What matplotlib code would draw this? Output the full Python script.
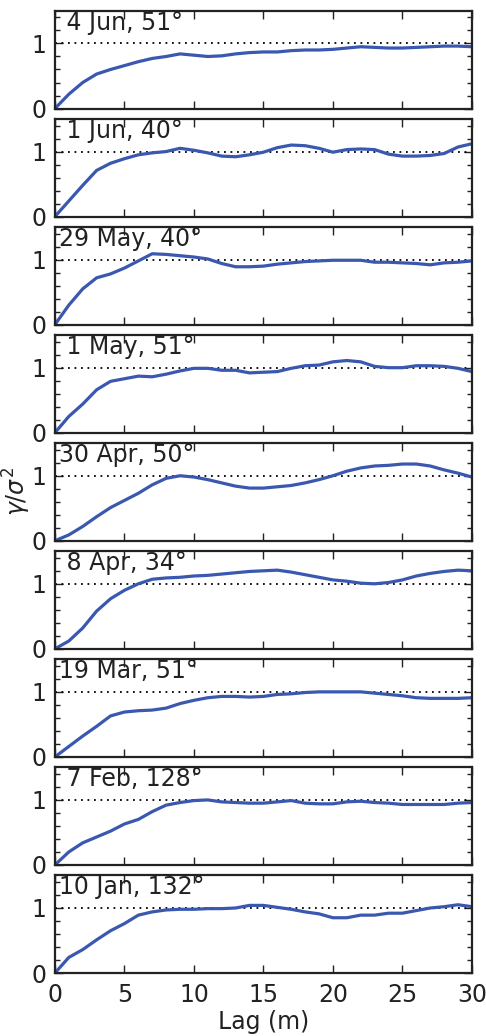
import matplotlib
matplotlib.use("Agg")
import matplotlib.pyplot as plt
from matplotlib.ticker import MultipleLocator

lag = list(range(0, 31))

labels = [" 4 Jun, 51°", " 1 Jun, 40°", "29 May, 40°", " 1 May, 51°",
          "30 Apr, 50°", " 8 Apr, 34°", "19 Mar, 51°", " 7 Feb, 128°", "10 Jan, 132°"]

jun04 = [0, 0.22, 0.40, 0.53, 0.60, 0.66, 0.72, 0.77, 0.80, 0.84, 0.82, 0.80, 0.81, 0.84, 0.86, 0.87,
         0.87, 0.89, 0.90, 0.90, 0.91, 0.93, 0.95, 0.94, 0.93, 0.93, 0.94, 0.95, 0.96, 0.96, 0.95]
jun01 = [0, 0.24, 0.48, 0.71, 0.82, 0.89, 0.95, 0.98, 1.00, 1.05, 1.02, 0.98, 0.93, 0.92, 0.95, 0.99,
         1.06, 1.10, 1.09, 1.05, 0.99, 1.03, 1.04, 1.03, 0.96, 0.93, 0.93, 0.94, 0.97, 1.07, 1.12]
may29 = [0, 0.30, 0.55, 0.72, 0.78, 0.87, 0.98, 1.09, 1.08, 1.06, 1.04, 1.01, 0.94, 0.89, 0.89, 0.90,
         0.93, 0.95, 0.97, 0.98, 0.99, 0.99, 0.99, 0.96, 0.96, 0.95, 0.94, 0.92, 0.95, 0.96, 0.98]
may01 = [0, 0.25, 0.44, 0.66, 0.79, 0.83, 0.87, 0.86, 0.90, 0.95, 0.99, 0.99, 0.96, 0.96, 0.92, 0.93,
         0.94, 0.99, 1.03, 1.04, 1.09, 1.11, 1.09, 1.02, 1.00, 1.00, 1.03, 1.03, 1.02, 0.99, 0.94]
apr30 = [0, 0.09, 0.22, 0.37, 0.51, 0.62, 0.73, 0.86, 0.96, 1.00, 0.98, 0.94, 0.89, 0.84, 0.81, 0.81,
         0.83, 0.85, 0.89, 0.94, 1.00, 1.07, 1.12, 1.15, 1.16, 1.18, 1.18, 1.15, 1.09, 1.04, 0.98]
apr08 = [0, 0.12, 0.32, 0.58, 0.77, 0.90, 1.00, 1.07, 1.09, 1.10, 1.12, 1.13, 1.15, 1.17, 1.19, 1.20,
         1.21, 1.18, 1.14, 1.10, 1.06, 1.04, 1.01, 1.00, 1.02, 1.06, 1.12, 1.16, 1.19, 1.21, 1.20]
mar19 = [0, 0.16, 0.32, 0.47, 0.63, 0.69, 0.71, 0.72, 0.75, 0.82, 0.87, 0.91, 0.93, 0.93, 0.92, 0.93,
         0.96, 0.97, 0.99, 1.00, 1.00, 1.00, 1.00, 0.98, 0.96, 0.94, 0.91, 0.90, 0.90, 0.90, 0.91]
feb07 = [0, 0.20, 0.34, 0.43, 0.52, 0.63, 0.70, 0.82, 0.92, 0.96, 0.99, 1.00, 0.97, 0.96, 0.95, 0.95,
         0.97, 0.99, 0.95, 0.94, 0.94, 0.97, 0.98, 0.96, 0.95, 0.93, 0.93, 0.93, 0.93, 0.95, 0.96]
jan10 = [0, 0.24, 0.36, 0.51, 0.65, 0.76, 0.89, 0.94, 0.97, 0.98, 0.98, 0.99, 0.99, 1.00, 1.04, 1.04,
         1.01, 0.98, 0.94, 0.91, 0.85, 0.85, 0.89, 0.89, 0.92, 0.92, 0.96, 1.00, 1.02, 1.05, 1.02]

series = [jun04, jun01, may29, may01, apr30, apr08, mar19, feb07, jan10]

x_ticks = [0, 5, 10, 15, 20, 25, 30]
y_ticks = [0, 1]

fig, axes = plt.subplots(9, 1, figsize=(4.86, 10.36), dpi=100, sharex=True)
fig.subplots_adjust(left=0.113, right=0.971, top=0.9894, bottom=0.0608, hspace=0.108)

FS = 17
for ax, lab, vals in zip(axes, labels, series):
    ax.plot([0, 30], [1, 1], color="black", linestyle=(0, (1, 2.6)), linewidth=1.3)
    ax.plot(lag, vals, color="#3a58b0", linewidth=2.3)
    ax.set_xlim(0, 30)
    ax.set_ylim(0, 1.5)
    ax.set_xticks(x_ticks)
    ax.set_yticks(y_ticks)
    ax.yaxis.set_minor_locator(MultipleLocator(0.2))
    ax.tick_params(which="both", direction="in", top=True, right=True, labelsize=FS, colors="#222222")
    ax.tick_params(which="major", length=6, width=1.0, pad=6)
    ax.tick_params(which="minor", length=3.5, width=1.0)
    ax.tick_params(axis="x", pad=7)
    for sp in ax.spines.values():
        sp.set_linewidth(1.6)
        sp.set_color("#222222")
    ax.text(0.01, 1.0, lab, transform=ax.transAxes, ha="left", va="top", fontsize=FS, color="#222222")

axes[-1].set_xticklabels([str(t) for t in x_ticks])
axes[-1].set_xlabel("Lag (m)", fontsize=FS, labelpad=2, color="#222222")
fig.text(0.035, 0.526, r"$\gamma/\sigma^2$", rotation=90, fontsize=FS, ha="center", va="center",
         color="#222222")

fig.savefig("out.png", dpi=100)
